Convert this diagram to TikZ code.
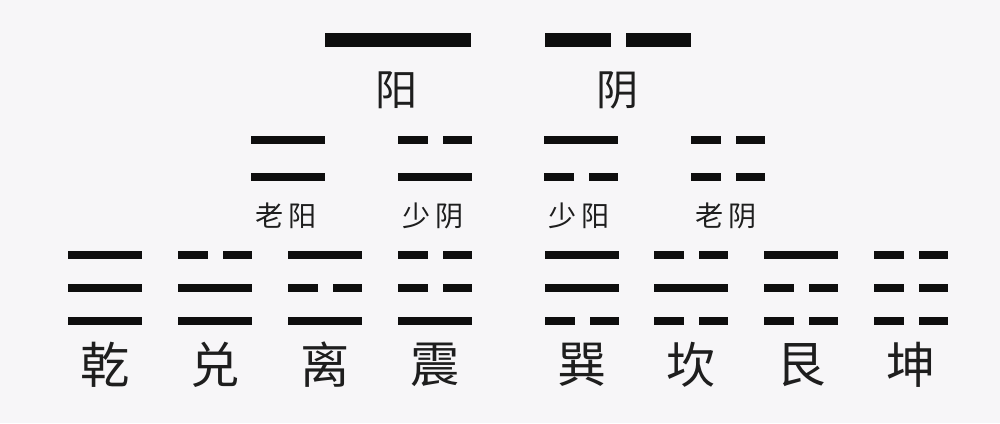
\documentclass[tikz,border=0pt]{standalone}
\usepackage{fontspec}
\newfontfamily\cjk{Noto Sans CJK SC}
\usepackage{tikz}
\usetikzlibrary{calc}
\definecolor{paperbg}{RGB}{247,246,248}
\definecolor{yaoink}{RGB}{14,14,14}
\definecolor{brushink}{RGB}{30,30,30}
\tikzset{
   liangyi/.style={font=\cjk\fontsize{30}{30}\selectfont, text=brushink, inner sep=0pt},
   sixiang/.style={font=\cjk\fontsize{20}{20}\selectfont, text=brushink, inner sep=0pt},
   bagua/.style={font=\cjk\fontsize{35}{35}\selectfont, text=brushink, inner sep=0pt},
}
% one yao line: left x, centre y, width, thickness, 1 = solid / 0 = broken
\newcommand{\yaoline}[5]{%
  \ifnum#5=1
    \fill[yaoink] (#1,{#2-#4/2}) rectangle ({#1+#3},{#2+#4/2});
  \else
    \fill[yaoink] (#1,{#2-#4/2}) rectangle ({#1+(#3-15)/2},{#2+#4/2});
    \fill[yaoink] ({#1+(#3+15)/2},{#2-#4/2}) rectangle ({#1+#3},{#2+#4/2});
  \fi}

\begin{document}
\begin{tikzpicture}[x=0.025cm,y=-0.025cm]

\fill[paperbg] (0,0) rectangle (1000,423);

% two modes
\yaoline{325}{40}{146}{14}{1}
\yaoline{545}{40}{146}{14}{0}
\node[liangyi] (yang) at (397,90) {阳};
\node[liangyi] (yin) at (618,90) {阴};

% four images
\foreach \x/\a/\b/\name/\lbl in {251/1/1/laoyang/{老\hspace{4pt}阳},
                                398/0/1/shaoyin/{少\hspace{4pt}阴},
                                544/1/0/shaoyang/{少\hspace{4pt}阳},
                                691/0/0/laoyin/{老\hspace{4pt}阴}}{
   \yaoline{\x}{140}{74}{8}{\a}
   \yaoline{\x}{177}{74}{8}{\b}
   \node[sixiang] (\name) at (\x+35,216) {\lbl};
}

% eight trigrams
\foreach \x/\a/\b/\c/\name/\lbl in {68/1/1/1/qian/乾, 178/0/1/1/dui/兑,
                                    288/1/0/1/li/离, 398/0/0/1/zhen/震,
                                    545/1/1/0/xun/巽, 654/0/1/0/kan/坎,
                                    764/1/0/0/gen/艮, 874/0/0/0/kun/坤}{
   \yaoline{\x}{255}{74}{8}{\a}
   \yaoline{\x}{288}{74}{8}{\b}
   \yaoline{\x}{321}{74}{8}{\c}
   \node[bagua] (\name) at (\x+37,365) {\lbl};
}

\end{tikzpicture}
\end{document}
